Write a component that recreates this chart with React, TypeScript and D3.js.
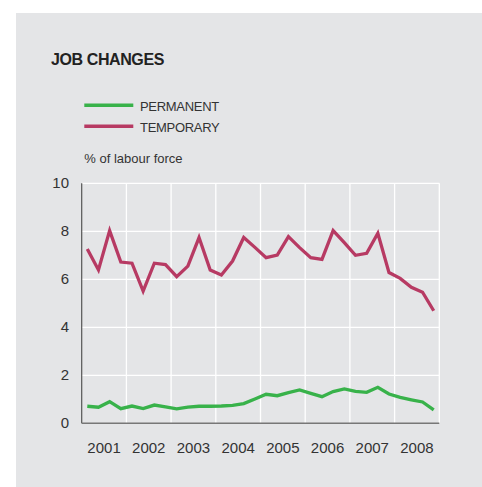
import React from "react";
import * as d3 from "d3";

const years = ["2001", "2002", "2003", "2004", "2005", "2006", "2007", "2008"];
const yTicks = [0, 2, 4, 6, 8, 10];
const quarters = d3.range(32);
const permanent = [
  0.71, 0.67, 0.9, 0.61, 0.72, 0.61, 0.76, 0.68,
  0.6, 0.67, 0.71, 0.71, 0.72, 0.75, 0.82, 1.01,
  1.21, 1.15, 1.28, 1.39, 1.25, 1.11, 1.32, 1.43,
  1.33, 1.29, 1.5, 1.22, 1.08, 0.98, 0.89, 0.56,
];
const temporary = [
  7.26, 6.39, 8.03, 6.72, 6.67, 5.51, 6.67, 6.61,
  6.11, 6.55, 7.74, 6.39, 6.18, 6.76, 7.74, 7.33,
  6.9, 7.01, 7.78, 7.32, 6.9, 6.83, 8.03, 7.53,
  7.0, 7.08, 7.92, 6.28, 6.04, 5.67, 5.46, 4.69,
];
const seriesNames = ["PERMANENT", "TEMPORARY"];
const seriesColors = ["#38b24a", "#b73a63"];

const W = 482;
const H = 487;
const left = 81.7;
const right = 439.3;
const top = 183.3;
const bottom = 423.3;

export default function App() {
  const xBand = d3.scaleBand().domain(years).range([left, right]).padding(0);
  const xq = d3.scaleLinear().domain([-0.5, quarters.length - 0.5]).range([left, right]);
  const y = d3.scaleLinear().domain([0, 10]).range([bottom, top]);
  const line = d3
    .line<number>()
    .x((_, i) => xq(i))
    .y((d) => y(d))
    .curve(d3.curveLinear);
  const font = "'Liberation Sans', Arial, Helvetica, sans-serif";
  const series = [permanent, temporary];
  return (
    <svg
      width={W}
      height={H}
      style={{ position: "absolute", left: 0, top: 0, display: "block" }}
      fontFamily={font}
    >
      <rect x={16} y={13} width={W - 16} height={H - 13} fill="#e4e5e7" />
      <text x={51} y={65} fontSize={16} fontWeight="bold" fill="#222" letterSpacing={-0.4}>
        JOB CHANGES
      </text>
      {seriesNames.map((n, i) => (
        <g key={n}>
          <line
            x1={84.3}
            x2={133.3}
            y1={105.3 + i * 21}
            y2={105.3 + i * 21}
            stroke={seriesColors[i]}
            strokeWidth={3.5}
          />
          <text x={140} y={110.5 + i * 21} fontSize={13} fill="#333" letterSpacing={-0.3}>
            {n}
          </text>
        </g>
      ))}
      <text x={84.3} y={163} fontSize={13} fill="#333">
        % of labour force
      </text>
      {yTicks.filter((t) => t > 0).map((t) => (
        <line key={"h" + t} x1={left} x2={right} y1={y(t)} y2={y(t)} stroke="#fff" strokeWidth={1.3} />
      ))}
      {years.map((yr) => (
        <line
          key={"v" + yr}
          x1={(xBand(yr) as number) + xBand.bandwidth()}
          x2={(xBand(yr) as number) + xBand.bandwidth()}
          y1={top}
          y2={bottom}
          stroke="#fff"
          strokeWidth={1.3}
        />
      ))}
      <line x1={left} x2={left} y1={top} y2={bottom} stroke="#555" strokeWidth={1.2} />
      <line x1={left} x2={right} y1={bottom} y2={bottom} stroke="#777" strokeWidth={1.5} />
      {yTicks.map((t) => (
        <text key={"yt" + t} x={69} y={y(t) + 5} fontSize={15} fill="#333" textAnchor="end">
          {t}
        </text>
      ))}
      {years.map((yr) => (
        <text
          key={"xt" + yr}
          x={(xBand(yr) as number) + xBand.bandwidth() / 2}
          y={453.3}
          fontSize={15}
          fill="#333"
          textAnchor="middle"
        >
          {yr}
        </text>
      ))}
      {series.map((s, i) => (
        <path
          key={"s" + i}
          d={line(s) || ""}
          fill="none"
          stroke={seriesColors[i]}
          strokeWidth={3.3}
          strokeLinejoin="miter"
        />
      ))}
    </svg>
  );
}
